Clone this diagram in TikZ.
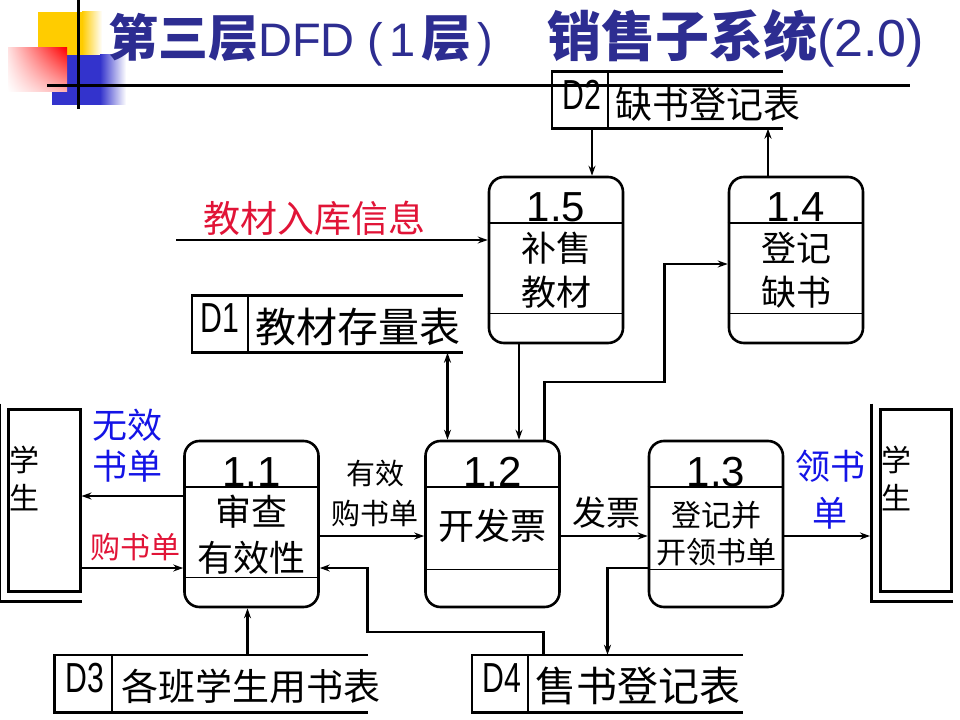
\documentclass[tikz,border=0pt]{standalone}
\usepackage{fontspec}
\setmainfont{Noto Sans CJK SC}
\newfontfamily\titlelatin{Liberation Sans}
\newfontfamily\numfont{Liberation Sans}
\newfontfamily\idfont{Liberation Sans}[FakeStretch=0.72]
\definecolor{TitleBlue}{RGB}{45,45,145}
\definecolor{FlowRed}{RGB}{225,20,55}
\definecolor{FlowBlue}{RGB}{20,20,230}
\definecolor{DecoYellow}{RGB}{255,204,0}
\definecolor{DecoBlue}{RGB}{51,51,204}
\usetikzlibrary{arrows.meta, positioning, shadings}

\begin{document}
\begin{tikzpicture}[x=1bp, y=-1bp,
    proc/.style={draw, line width=2.6bp, rounded corners=15bp,
                 minimum width=134bp, minimum height=166bp, inner sep=0pt},
    ext/.style={draw, line width=3bp, minimum width=71bp, minimum height=182bp, inner sep=0pt},
    store/.style={minimum height=57bp, inner sep=0pt},
    sep/.style={line width=1.6bp},
    sline/.style={line width=2.6bp},
    eline/.style={line width=3bp},
    arr/.style={-{Stealth[length=10bp, width=7bp]}, line width=2.2bp},
    arrboth/.style={{Stealth[length=10bp, width=7bp]}-{Stealth[length=10bp, width=7bp]}, line width=2.2bp},
    numtxt/.style={font=\numfont\fontsize{42bp}{42bp}\selectfont, inner sep=0pt},
    ptxt/.style={font=\fontsize{35bp}{44bp}\selectfont, align=center, inner sep=0pt},
    idtxt/.style={font=\idfont\fontsize{42bp}{42bp}\selectfont, inner sep=0pt},
    stxt/.style={font=\fontsize{41bp}{41bp}\selectfont, anchor=west, inner sep=0pt},
    etxt/.style={font=\fontsize{30bp}{38bp}\selectfont, align=left, anchor=west, inner sep=0pt},
    lbl/.style={font=\fontsize{35bp}{41bp}\selectfont, align=center, inner sep=0pt}
  ]
    \useasboundingbox (0,0) rectangle (960,720);

    \fill[DecoYellow] (38,12) rectangle (82,55);
    \shade[left color=DecoYellow, right color=white] (82,12) rectangle (102,55);
    \fill[DecoBlue] (52,55) rectangle (100,105);
    \shade[left color=DecoBlue, right color=white] (100,55) rectangle (126,105);
    \shade[upper left=red!12, upper right=red, lower left=white, lower right=red!30] (8,48) rectangle (67,92);
    \draw[line width=3bp] (78,0) -- (78,109);

    \node[anchor=base west, inner sep=0pt, text=TitleBlue] (title) at (108,57)
      {\bfseries\fontsize{50bp}{50bp}\selectfont 第三层{\titlelatin\mdseries\fontsize{47bp}{47bp}\selectfont DFD (\hspace{6bp}1}\hspace{6bp}层\hspace{6bp}{\titlelatin\mdseries\fontsize{47bp}{47bp}\selectfont )}\hspace{54bp}{\fontsize{54bp}{54bp}\selectfont 销售子系统}{\titlelatin\mdseries\fontsize{52bp}{52bp}\selectfont (2.0)}};

    \node[proc] (p15) at (556,260) {};
    \node[proc] (p14) at (796,260) {};
    \node[proc] (p11) at (251.5,524) {};
    \node[proc] (p12) at (492.5,524) {};
    \node[proc] (p13) at (716,524) {};
    \draw[sep] ([yshift=-47bp]p15.north west) -- ([yshift=-47bp]p15.north east);
    \draw[sep] ([yshift=31bp]p15.south west) -- ([yshift=31bp]p15.south east);
    \draw[sep] ([yshift=-47bp]p14.north west) -- ([yshift=-47bp]p14.north east);
    \draw[sep] ([yshift=31bp]p14.south west) -- ([yshift=31bp]p14.south east);
    \draw[sep] ([yshift=-47bp]p11.north west) -- ([yshift=-47bp]p11.north east);
    \draw[sep] ([yshift=31bp]p11.south west) -- ([yshift=31bp]p11.south east);
    \draw[sep] ([yshift=-47bp]p12.north west) -- ([yshift=-47bp]p12.north east);
    \draw[sep] ([yshift=39bp]p12.south west) -- ([yshift=39bp]p12.south east);
    \draw[sep] ([yshift=-47bp]p13.north west) -- ([yshift=-47bp]p13.north east);
    \draw[sep] ([yshift=39bp]p13.south west) -- ([yshift=39bp]p13.south east);

    \node[numtxt] (p15n) at (556,207) {1.5};
    \node[ptxt] (p15t) at (556,270) {补售\\教材};
    \node[numtxt] (p14n) at (796,207) {1.4};
    \node[ptxt] (p14t) at (796,270) {登记\\缺书};
    \node[numtxt] (p11n) at (251.5,472) {1.1};
    \node[ptxt, font=\fontsize{36bp}{46bp}\selectfont] (p11t) at (251.5,535) {审查\\有效性};
    \node[numtxt] (p12n) at (492.5,472) {1.2};
    \node[ptxt, font=\fontsize{36bp}{46bp}\selectfont] (p12t) at (492.5,526) {开发票};
    \node[numtxt] (p13n) at (716,472) {1.3};
    \node[ptxt, font=\fontsize{30bp}{37bp}\selectfont] (p13t) at (716,534) {登记并\\开领书单};

    \node[ext] (ext1) at (44.5,500) {};
    \node[ext] (ext2) at (916,500) {};
    \draw[eline] ([xshift=-8bp, yshift=4bp]ext1.north west) |- ([yshift=-9bp]ext1.south east);
    \draw[eline] ([xshift=-8bp, yshift=4bp]ext2.north west) |- ([yshift=-9bp]ext2.south east);
    \coordinate (ext2in) at ([xshift=-9bp]ext2.west);
    \node[etxt] (ext1t) at ([xshift=2bp, yshift=22bp]ext1.west) {学\\生};
    \node[etxt] (ext2t) at ([xshift=2bp, yshift=22bp]ext2.west) {学\\生};

    \node[store, minimum width=271bp] (d1) at (327.5,324) {};
    \node[store, minimum width=231bp] (d2) at (667.5,100) {};
    \node[store, minimum width=313bp] (d3) at (211.5,683.5) {};
    \node[store, minimum width=271bp] (d4) at (607.5,683.5) {};
    \draw[sline] (d1.north east) -- (d1.north west) -- (d1.south west) -- (d1.south east);
    \draw[sline] (d2.north east) -- (d2.north west) -- (d2.south west) -- (d2.south east);
    \draw[sline] (d3.north east) -- (d3.north west) -- (d3.south west) -- (d3.south east);
    \draw[sline] (d4.north east) -- (d4.north west) -- (d4.south west) -- (d4.south east);
    \draw[sep] ([xshift=56bp]d1.north west) -- ([xshift=56bp]d1.south west);
    \draw[sep] ([xshift=56bp]d2.north west) -- ([xshift=56bp]d2.south west);
    \draw[sep] ([xshift=57bp]d3.north west) -- ([xshift=57bp]d3.south west);
    \draw[sep] ([xshift=56bp]d4.north west) -- ([xshift=56bp]d4.south west);
    \node[idtxt] (d1id) at ([xshift=28bp, yshift=6bp]d1.west) {D1};
    \node[idtxt] (d2id) at ([xshift=30bp, yshift=5bp]d2.west) {D2};
    \node[idtxt] (d3id) at ([xshift=30bp, yshift=5bp]d3.west) {D3};
    \node[idtxt] (d4id) at ([xshift=30bp, yshift=5bp]d4.west) {D4};
    \node[stxt] (d1nm) at ([xshift=63bp, yshift=-3bp]d1.west) {教材存量表};
    \node[stxt, font=\fontsize{37bp}{37bp}\selectfont] (d2nm) at ([xshift=63bp, yshift=-4bp]d2.west) {缺书登记表};
    \node[stxt, font=\fontsize{37bp}{37bp}\selectfont] (d3nm) at ([xshift=66bp, yshift=-3bp]d3.west) {各班学生用书表};
    \node[stxt] (d4nm) at ([xshift=63bp, yshift=-2bp]d4.west) {售书登记表};

    \draw[line width=3bp] (47,86) -- (910,86);

    \coordinate (src) at (176,240);
    \node[lbl, font=\fontsize{37bp}{37bp}\selectfont, text=FlowRed] (lsrc) at (314,218) {教材入库信息};
    \node[lbl, text=FlowBlue] (lbad) at (127,446) {无效\\书单};
    \node[lbl, font=\fontsize{30bp}{30bp}\selectfont, text=FlowRed] (lorder) at (135,547) {购书单};
    \node[lbl, font=\fontsize{29bp}{40bp}\selectfont] (lvalid) at (375,493) {有效\\购书单};
    \node[lbl, font=\fontsize{34bp}{34bp}\selectfont] (linv) at (606,513) {发票};
    \node[lbl, font=\fontsize{35bp}{47bp}\selectfont, text=FlowBlue] (lslip) at (830,490) {领书\\单};

    \draw[arr] (src) -- (src -| p15.west);
    \draw[arr] ([xshift=36bp]p15.north |- d2.south) -- ([xshift=36bp]p15.north);
    \draw[arr] ([xshift=-28bp]p14.north) -- ([xshift=-28bp]p14.north |- d2.south);
    \draw[arr] ([xshift=52bp]p12.north) |- ++(120,-58) |- ([yshift=-4bp]p14.west);
    \draw[arr] ([xshift=-37bp]p15.south) -- ([xshift=-37bp]p15.south |- p12.north);
    \draw[arrboth] ([xshift=-45bp]p12.north |- d1.south) -- ([xshift=-45bp]p12.north);
    \draw[arr] ([yshift=28bp]p11.west) -- ([yshift=28bp]p11.west -| ext1.east);
    \draw[arr] ([yshift=-44bp]p11.west -| ext1.east) -- ([yshift=-44bp]p11.west);
    \draw[arr] ([yshift=-12bp]p11.east) -- ([yshift=-12bp]p11.east -| p12.west);
    \draw[arr] ([yshift=-12bp]p12.east) -- ([yshift=-12bp]p12.east -| p13.west);
    \draw[arr] ([yshift=-12bp]p13.east) -- ([yshift=-12bp]p13.east -| ext2in);
    \draw[arr] ([xshift=-4bp]p11.south |- d3.north) -- ([xshift=-4bp]p11.south);
    \draw[arr] ([yshift=-44bp]p13.west) -| (d4.north);
    \draw[arr] ([xshift=-64bp]d4.north) |- ++(-176,-23) |- ([yshift=-44bp]p11.east);
  \end{tikzpicture}
\end{document}
